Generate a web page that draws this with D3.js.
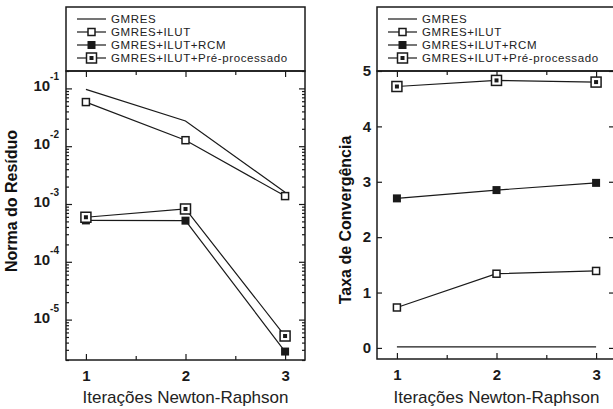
<!DOCTYPE html>
<html>
<head>
<meta charset="utf-8">
<script src="https://cdn.jsdelivr.net/npm/d3@7"></script>
<style>
  body { margin: 0; background: #fff; }
  svg { display: block; font-family: "Liberation Sans", Arial, sans-serif; }
</style>
</head>
<body>
<div id="chart"></div>
<script>
// data
const iterations = [1, 2, 3];
const seriesNames = ['GMRES', 'GMRES+ILUT', 'GMRES+ILUT+RCM', 'GMRES+ILUT+Pré-processado'];
const markerTypes = ['none', 'open', 'filled', 'boxed'];

// Norma do Resíduo (log scale)
const residuoGMRES = [0.096, 0.0273, 0.0016];
const residuoILUT = [0.058, 0.0127, 0.00137];
const residuoRCM = [0.00052, 0.000515, 0.0000028];
const residuoPre = [0.00059, 0.00082, 0.0000052];
const residuoTicks = [1e-1, 1e-2, 1e-3, 1e-4, 1e-5];
const residuoExp = ['-1', '-2', '-3', '-4', '-5'];

// Taxa de Convergência
const taxaGMRES = [0.02, 0.02, 0.02];
const taxaILUT = [0.73, 1.34, 1.39];
const taxaRCM = [2.70, 2.85, 2.98];
const taxaPre = [4.72, 4.83, 4.80];
const taxaTicks = [0, 1, 2, 3, 4, 5];

const xTicks = [1, 2, 3];
const xMinorTicks = [1.5, 2.5];

const ink = '#1a1a1a';

const svg = d3.select('#chart').append('svg')
  .attr('width', 613)
  .attr('height', 409);

function drawPanel(opts) {
  const { left, right, top, bottom, legendTop, series, yScale, yTitle, titleX, titleY } = opts;
  const g = svg.append('g');

  const x = d3.scaleLinear().domain([0.8, 3.2]).range([left, right]);
  const y = yScale.range([bottom, top]);

  // x ticks, bottom and top, pointing inward
  g.append('g')
    .attr('transform', 'translate(0,' + bottom + ')')
    .call(d3.axisBottom(x).tickValues(xTicks).tickSize(-6).tickPadding(10).tickFormat(d3.format('d')))
    .call(a => a.select('.domain').remove())
    .call(a => a.selectAll('text').attr('font-size', 15).attr('font-weight', 'bold').attr('fill', ink));
  g.append('g')
    .attr('transform', 'translate(0,' + bottom + ')')
    .call(d3.axisBottom(x).tickValues(xMinorTicks).tickSize(-4).tickFormat(''))
    .call(a => a.select('.domain').remove());
  g.append('g')
    .attr('transform', 'translate(0,' + top + ')')
    .call(d3.axisTop(x).tickValues(xTicks).tickSize(-6).tickFormat(''))
    .call(a => a.select('.domain').remove());
  g.append('g')
    .attr('transform', 'translate(0,' + top + ')')
    .call(d3.axisTop(x).tickValues(xMinorTicks).tickSize(-4).tickFormat(''))
    .call(a => a.select('.domain').remove());

  // y ticks on both sides
  opts.yAxes(g, y);

  g.selectAll('.tick line').attr('stroke', ink).attr('stroke-width', 1.2);

  // frame of the plot and legend box
  g.append('rect')
    .attr('x', left).attr('y', top)
    .attr('width', right - left).attr('height', bottom - top)
    .attr('fill', 'none').attr('stroke', ink).attr('stroke-width', 1.5);
  g.append('rect')
    .attr('x', left).attr('y', legendTop)
    .attr('width', right - left).attr('height', top - legendTop)
    .attr('fill', 'none').attr('stroke', ink).attr('stroke-width', 1.5);

  // series lines
  const line = d3.line().x((d, i) => x(iterations[i])).y(d => y(d));
  g.selectAll('path.series')
    .data(series)
    .enter()
    .append('path')
    .attr('class', 'series')
    .attr('d', d => line(d))
    .attr('fill', 'none')
    .attr('stroke', ink)
    .attr('stroke-width', 1.2);

  series.forEach((vals, s) => {
    vals.forEach((v, i) => drawMarker(g, markerTypes[s], x(iterations[i]), y(v)));
  });

  // legend
  const rowY = d3.scalePoint().domain(seriesNames).range([legendTop + 12, legendTop + 51]);
  seriesNames.forEach((name, s) => {
    const ly = rowY(name);
    g.append('line')
      .attr('x1', left + 11).attr('x2', left + 40)
      .attr('y1', ly).attr('y2', ly)
      .attr('stroke', ink).attr('stroke-width', 1.2);
    drawMarker(g, markerTypes[s], left + 25.5, ly);
    g.append('text')
      .attr('x', left + 45).attr('y', ly + 4)
      .attr('font-size', 11.5)
      .attr('letter-spacing', 0.6)
      .attr('fill', '#222')
      .text(name);
  });

  // axis titles
  g.append('text')
    .attr('x', (x(1) + x(3)) / 2).attr('y', 403)
    .attr('text-anchor', 'middle')
    .attr('font-size', 17)
    .attr('fill', '#222')
    .text('Iterações Newton-Raphson');
  g.append('text')
    .attr('transform', 'translate(' + titleX + ',' + titleY + ') rotate(-90)')
    .attr('text-anchor', 'middle')
    .attr('font-size', 16)
    .attr('font-weight', 'bold')
    .attr('fill', '#111')
    .text(yTitle);
}

function drawMarker(g, type, cx, cy) {
  if (type === 'open') {
    g.append('rect')
      .attr('x', cx - 3.5).attr('y', cy - 3.5).attr('width', 7).attr('height', 7)
      .attr('fill', '#fff').attr('stroke', ink).attr('stroke-width', 1.5);
  } else if (type === 'filled') {
    g.append('rect')
      .attr('x', cx - 4).attr('y', cy - 4).attr('width', 8).attr('height', 8)
      .attr('fill', ink);
  } else if (type === 'boxed') {
    g.append('rect')
      .attr('x', cx - 5).attr('y', cy - 5).attr('width', 10).attr('height', 10)
      .attr('fill', '#fff').attr('stroke', ink).attr('stroke-width', 1.5);
    g.append('rect')
      .attr('x', cx - 2).attr('y', cy - 2).attr('width', 4).attr('height', 4)
      .attr('fill', ink);
  }
}

// left panel: Norma do Resíduo
drawPanel({
  left: 66, right: 305, top: 71, bottom: 360, legendTop: 7,
  series: [residuoGMRES, residuoILUT, residuoRCM, residuoPre],
  yScale: d3.scaleLog().domain([2e-6, 0.2]),
  yTitle: 'Norma do Resíduo',
  titleX: 17,
  titleY: 201,
  yAxes: (g, y) => {
    const minor = y.ticks().filter(t => residuoTicks.every(m => Math.abs(Math.log10(t) - Math.log10(m)) > 1e-6));
    g.append('g').attr('transform', 'translate(66,0)')
      .call(d3.axisLeft(y).tickValues(residuoTicks).tickSize(-6).tickFormat(''))
      .call(a => a.select('.domain').remove());
    g.append('g').attr('transform', 'translate(66,0)')
      .call(d3.axisLeft(y).tickValues(minor).tickSize(-3).tickFormat(''))
      .call(a => a.select('.domain').remove());
    g.append('g').attr('transform', 'translate(305,0)')
      .call(d3.axisRight(y).tickValues(residuoTicks).tickSize(-6).tickFormat(''))
      .call(a => a.select('.domain').remove());
    g.append('g').attr('transform', 'translate(305,0)')
      .call(d3.axisRight(y).tickValues(minor).tickSize(-3).tickFormat(''))
      .call(a => a.select('.domain').remove());

    const lbl = g.selectAll('text.loglabel')
      .data(residuoTicks)
      .enter()
      .append('text')
      .attr('class', 'loglabel')
      .attr('x', 59)
      .attr('y', d => y(d) + 3)
      .attr('text-anchor', 'end')
      .attr('font-weight', 'bold')
      .attr('fill', ink);
    lbl.append('tspan').attr('font-size', 15).text('10');
    lbl.append('tspan').attr('font-size', 10).attr('dy', -11).text((d, i) => residuoExp[i]);
  }
});

// right panel: Taxa de Convergência
drawPanel({
  left: 377, right: 616, top: 71, bottom: 359, legendTop: 7,
  series: [taxaGMRES, taxaILUT, taxaRCM, taxaPre],
  yScale: d3.scaleLinear().domain([-0.2, 5]),
  yTitle: 'Taxa de Convergência',
  titleX: 351,
  titleY: 220,
  yAxes: (g, y) => {
    g.append('g').attr('transform', 'translate(377,0)')
      .call(d3.axisLeft(y).tickValues(taxaTicks).tickSize(-5).tickPadding(6).tickFormat(d3.format('d')))
      .call(a => a.select('.domain').remove())
      .call(a => a.selectAll('text').attr('font-size', 15).attr('font-weight', 'bold').attr('fill', ink));
    g.append('g').attr('transform', 'translate(614,0)')
      .call(d3.axisRight(y).tickValues(taxaTicks).tickSize(-5).tickFormat(''))
      .call(a => a.select('.domain').remove());
  }
});
</script>
</body>
</html>
